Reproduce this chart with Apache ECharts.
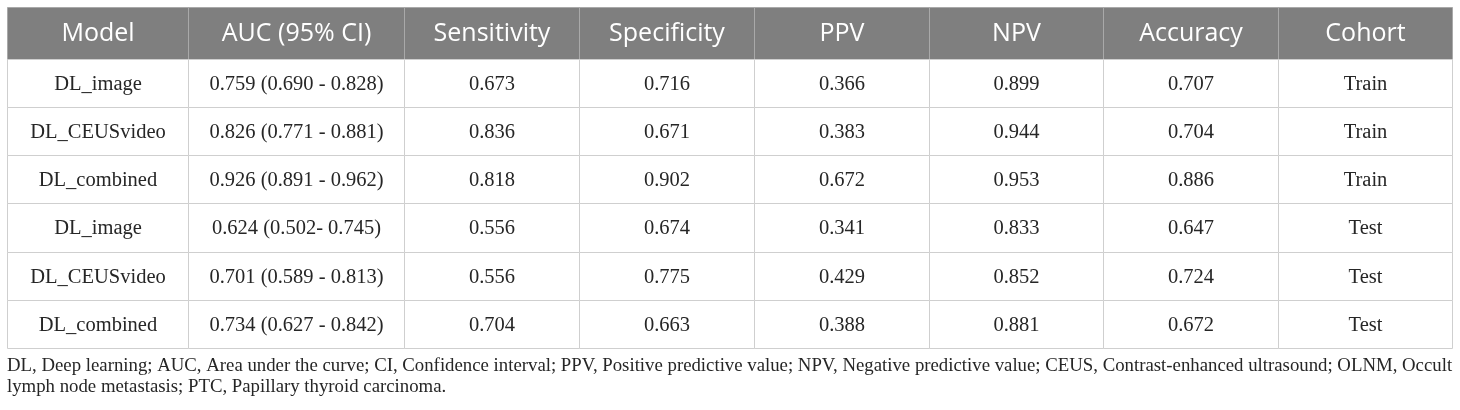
<!DOCTYPE html>
<html>
<head>
<meta charset="utf-8">
<script src="https://cdn.jsdelivr.net/npm/echarts@6/dist/echarts.min.js"></script>
<style>html,body{margin:0;padding:0;background:#fff;}#c{width:1460px;height:410px;}</style>
</head>
<body>
<div id="c"></div>
<script>
// ---- data ----
const columns = ['Model', 'AUC (95% CI)', 'Sensitivity', 'Specificity', 'PPV', 'NPV', 'Accuracy', 'Cohort'];
const models = ['DL_image', 'DL_CEUSvideo', 'DL_combined', 'DL_image', 'DL_CEUSvideo', 'DL_combined'];
const auc = ['0.759 (0.690 - 0.828)', '0.826 (0.771 - 0.881)', '0.926 (0.891 - 0.962)', '0.624 (0.502- 0.745)', '0.701 (0.589 - 0.813)', '0.734 (0.627 - 0.842)'];
const sensitivity = ['0.673', '0.836', '0.818', '0.556', '0.556', '0.704'];
const specificity = ['0.716', '0.671', '0.902', '0.674', '0.775', '0.663'];
const ppv = ['0.366', '0.383', '0.672', '0.341', '0.429', '0.388'];
const npv = ['0.899', '0.944', '0.953', '0.833', '0.852', '0.881'];
const accuracy = ['0.707', '0.704', '0.886', '0.647', '0.724', '0.672'];
const cohort = ['Train', 'Train', 'Train', 'Test', 'Test', 'Test'];
const footnote = 'DL, Deep learning; AUC, Area under the curve; CI, Confidence interval; PPV, Positive predictive value; NPV, Negative predictive value; CEUS, Contrast-enhanced ultrasound; OLNM, Occult\nlymph node metastasis; PTC, Papillary thyroid carcinoma.';

// ---- layout (not data) ----
const colWidths = [181, 216, 175, 175, 175, 174, 175, 174];
const colStarts = [];
let acc = 0;
colWidths.forEach(w => { colStarts.push(acc); acc += w; });
const totalWidth = acc;

const bodyCols = [models, auc, sensitivity, specificity, ppv, npv, accuracy, cohort];
const rowLabels = models.map((m, i) => 'r' + i);

const headerData = columns.map((t, c) => [colStarts[c], colStarts[c] + colWidths[c], 'h', t]);
const bodyData = [];
rowLabels.forEach((r, ri) => {
  bodyCols.forEach((col, c) => {
    bodyData.push([colStarts[c], colStarts[c] + colWidths[c], r, col[ri]]);
  });
});

function makeRender(isHeader) {
  return function (params, api) {
    const x0 = api.value(0), x1 = api.value(1), y = api.value(2);
    const p0 = api.coord([x0, y]);
    const p1 = api.coord([x1, y]);
    const h = api.size([0, 1])[1];
    const left = Math.round(p0[0]) + 0.5, right = Math.round(p1[0]) + 0.5;
    const top = Math.round(p0[1] - h / 2) + 0.5;
    const bottom = Math.round(p0[1] + h / 2) + 0.5;
    return {
      type: 'group',
      children: [
        {
          type: 'rect',
          shape: { x: left, y: top, width: right - left, height: bottom - top },
          style: isHeader
            ? { fill: '#7f7f7f', stroke: '#a9a9a9', lineWidth: 1 }
            : { fill: '#ffffff', stroke: '#cfcfcf', lineWidth: 1 }
        },
        {
          type: 'text',
          style: {
            text: api.value(3),
            x: (left + right) / 2,
            y: (top + bottom) / 2 + (isHeader ? 0 : 1),
            align: 'center',
            verticalAlign: 'middle',
            fontFamily: isHeader ? 'Open Sans' : 'Liberation Serif',
            fontSize: isHeader ? 25 : 20.5,
            fill: isHeader ? '#ffffff' : '#262626'
          }
        }
      ]
    };
  };
}

const chart = echarts.init(document.getElementById('c'), null, { renderer: 'canvas' });
chart.setOption({
  animation: false,
  grid: [
    { left: 7, right: 8, top: 7, height: 52 },
    { left: 7, right: 8, top: 59, height: 289 }
  ],
  xAxis: [
    { type: 'value', gridIndex: 0, min: 0, max: totalWidth, show: false },
    { type: 'value', gridIndex: 1, min: 0, max: totalWidth, show: false }
  ],
  yAxis: [
    { type: 'category', gridIndex: 0, data: ['h'], show: false },
    { type: 'category', gridIndex: 1, data: rowLabels, inverse: true, show: false }
  ],
  series: [
    {
      type: 'custom', xAxisIndex: 0, yAxisIndex: 0,
      renderItem: makeRender(true), data: headerData,
      encode: { x: [0, 1], y: 2 }
    },
    {
      type: 'custom', xAxisIndex: 1, yAxisIndex: 1,
      renderItem: makeRender(false), data: bodyData,
      encode: { x: [0, 1], y: 2 }
    }
  ],
  graphic: [
    {
      type: 'text',
      left: 7,
      top: 356,
      style: {
        text: footnote,
        fontFamily: 'Liberation Serif',
        fontSize: 18.8,
        lineHeight: 21,
        fill: '#262626'
      }
    }
  ]
});
</script>
</body>
</html>
